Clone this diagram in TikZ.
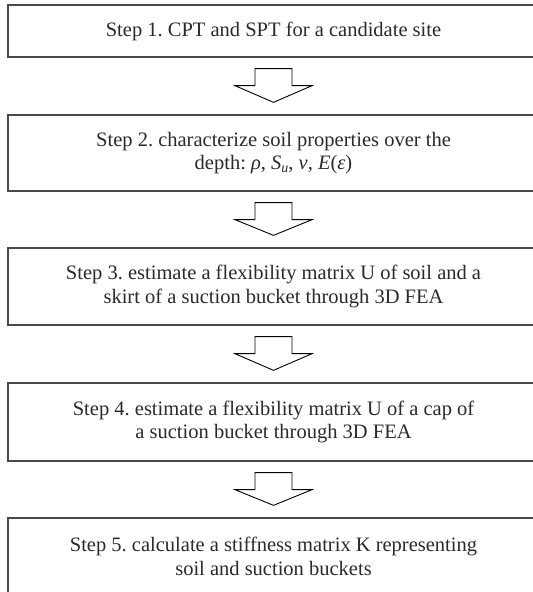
\documentclass[tikz,border=0pt]{standalone}
\usepackage{fontspec}
\setmainfont{Liberation Serif}
\definecolor{boxgray}{HTML}{4A4A4A}
\definecolor{txtgray}{HTML}{2A2A2A}
\frenchspacing
\begin{document}
\begin{tikzpicture}[x=1pt,y=-1pt,
  stepbox/.style={draw=boxgray, line width=1.3pt, minimum width=531pt, align=center,
    text=txtgray, font=\fontsize{20.5}{23.5}\selectfont\frenchspacing, inner sep=0pt},
  flow/.style={draw=black, line width=0.9pt, fill=white, line join=miter}]
\useasboundingbox (0,0) rectangle (533,592);
\node[stepbox, minimum height=52pt] (s1) at (273.5,31) {Step 1. CPT and SPT for a candidate site};
\node[stepbox, minimum height=76pt] (s2) at (273.5,153) {Step 2. characterize soil properties over the\\depth: \textit{ρ}, \textit{S}\raisebox{-0.3ex}{\fontsize{14}{14}\selectfont\textit{u}}, \textit{ν}, \textit{E}(\textit{ε})};
\node[stepbox, minimum height=77pt] (s3) at (273.5,286.5) {Step 3. estimate a flexibility matrix U of soil and a\\skirt of a suction bucket through 3D FEA};
\node[stepbox, minimum height=78pt] (s4) at (273.5,422) {Step 4. estimate a flexibility matrix U of a cap of\\a suction bucket through 3D FEA};
\node[stepbox, minimum height=77pt] (s5) at (273.5,556.5) {Step 5. calculate a stiffness matrix K representing\\soil and suction buckets};
\foreach \a/\b in {s1/s2,s2/s3,s3/s4,s4/s5}{
  \draw[flow] ([shift={(-18.5pt,-11pt)}]\a.south) -- ([shift={(18.5pt,-11pt)}]\a.south)
    -- ([shift={(18.5pt,-28pt)}]\a.south) -- ([shift={(38.5pt,-28pt)}]\a.south)
    -- ([yshift=12pt]\b.north) -- ([shift={(-38.5pt,-28pt)}]\a.south)
    -- ([shift={(-18.5pt,-28pt)}]\a.south) -- cycle;
}
\end{tikzpicture}
\end{document}
